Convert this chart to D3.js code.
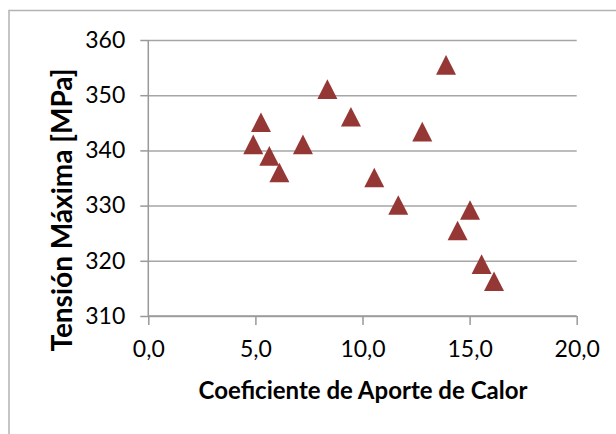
<!DOCTYPE html>
<html>
<head>
<meta charset="utf-8">
<script src="https://cdn.jsdelivr.net/npm/d3@7"></script>
<style>
  html, body { margin: 0; padding: 0; background: #fff; }
  svg { display: block; }
</style>
</head>
<body>
<svg id="chart"></svg>
<script>
// datos
const aporteCalor = [8.36, 9.46, 5.26, 4.90, 7.22, 5.65, 6.12, 10.55, 13.9, 12.79, 11.67, 15.02, 14.44, 15.56, 16.14];
const tensionMax = [351.1, 346.1, 345.1, 341.1, 341.1, 339.0, 336.0, 335.1, 355.5, 343.4, 330.1, 329.2, 325.5, 319.4, 316.3];
const xTicks = [0, 5, 10, 15, 20];
const yTicks = [310, 320, 330, 340, 350, 360];

const width = 616, height = 434;
const svg = d3.select("#chart").attr("width", width).attr("height", height);

const plot = { left: 148.3, right: 576.7, top: 40, bottom: 316 };

const x = d3.scaleLinear().domain([0, 20]).range([plot.left, plot.right]);
const y = d3.scaleLinear().domain([310, 360]).range([plot.bottom, plot.top]);

const es = d3.formatLocale({ decimal: ",", thousands: ".", grouping: [3], currency: ["", "€"] });
const fmtX = es.format(".1f");

// borde del area del grafico
svg.append("path")
    .attr("d", `M9,${height} V10.5 H${width}`)
    .attr("fill", "none")
    .attr("stroke", "#b3b3b3")
    .attr("stroke-width", 1.5);

const font = "Lato, 'Open Sans', sans-serif";

// rejilla horizontal + eje y
const yAxis = svg.append("g")
    .attr("transform", `translate(${plot.left},0)`)
    .call(d3.axisLeft(y).tickValues(yTicks).tickSize(8).tickPadding(15));
yAxis.select(".domain").remove();
yAxis.selectAll(".tick line").attr("stroke", "#999").attr("stroke-width", 1.5);
yAxis.selectAll(".tick").append("line")
    .attr("x1", 0).attr("x2", plot.right - plot.left)
    .attr("stroke", "#a6a6a6").attr("stroke-width", 1.5);
yAxis.selectAll("text")
    .attr("font-family", font).attr("font-size", 23).attr("fill", "#000");

// eje x
const xAxis = svg.append("g")
    .attr("transform", `translate(0,${plot.bottom})`)
    .call(d3.axisBottom(x).tickValues(xTicks).tickFormat(fmtX).tickSize(9).tickPadding(16));
xAxis.select(".domain").attr("stroke", "#999").attr("stroke-width", 1.5)
    .attr("d", `M${plot.left},0H${plot.right}`);
xAxis.selectAll(".tick line").attr("stroke", "#999").attr("stroke-width", 1.5);
xAxis.selectAll("text")
    .attr("font-family", font).attr("font-size", 23).attr("fill", "#000");

// linea vertical del eje y
svg.append("line")
    .attr("x1", plot.left).attr("x2", plot.left)
    .attr("y1", plot.top).attr("y2", plot.bottom)
    .attr("stroke", "#999").attr("stroke-width", 1.5);

// titulos
svg.append("text")
    .attr("x", 363).attr("y", 399)
    .attr("text-anchor", "middle")
    .attr("font-family", font).attr("font-weight", "bold").attr("font-size", 24)
    .attr("fill", "#000")
    .text("Coeficiente de Aporte de Calor");

svg.append("text")
    .attr("transform", "translate(72,210) rotate(-90)")
    .attr("text-anchor", "middle")
    .attr("font-family", font).attr("font-weight", "bold").attr("font-size", 28)
    .attr("fill", "#000")
    .text("Tensión Máxima [MPa]");

// marcadores triangulares
const tri = {
    draw(ctx) {
        const w = 10, h = 9.8;
        ctx.moveTo(0, -h);
        ctx.lineTo(w, h);
        ctx.lineTo(-w, h);
        ctx.closePath();
    }
};

svg.append("g").selectAll("path")
    .data(aporteCalor.map((v, i) => [v, tensionMax[i]]))
    .join("path")
    .attr("transform", d => `translate(${x(d[0])},${y(d[1])})`)
    .attr("d", d3.symbol(tri))
    .attr("fill", "#953735");
</script>
</body>
</html>
